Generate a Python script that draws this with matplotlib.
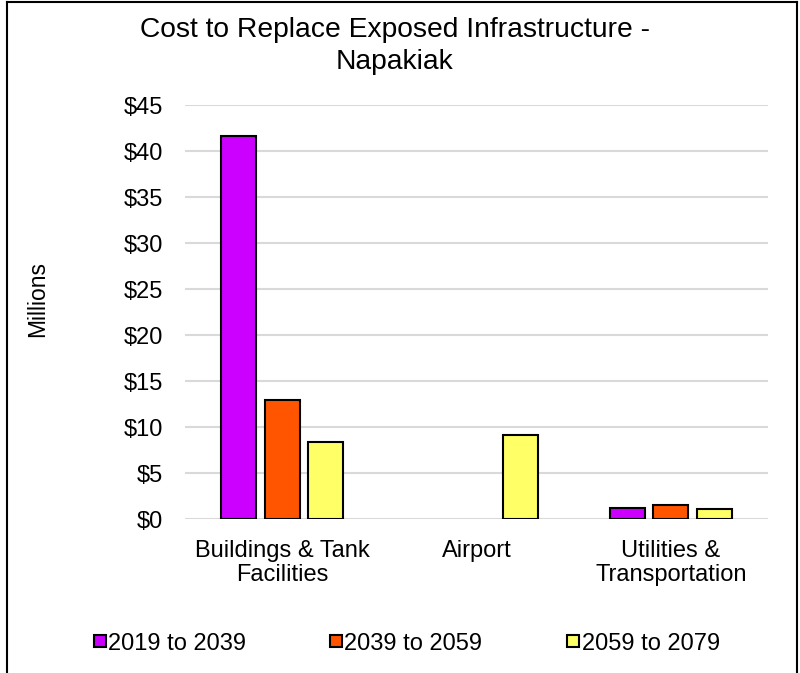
import matplotlib
matplotlib.use("Agg")
import matplotlib.pyplot as plt
from matplotlib.lines import Line2D
from matplotlib.patches import Rectangle
import numpy as np

plt.rcParams['font.family'] = ['Liberation Sans', 'DejaVu Sans']

categories = ["Buildings & Tank\nFacilities", "Airport", "Utilities &\nTransportation"]
series_names = ["2019 to 2039", "2039 to 2059", "2059 to 2079"]
s2019 = [41.6, 0.0, 1.2]
s2039 = [13.0, 0.0, 1.55]
s2059 = [8.45, 9.15, 1.12]
colors = ["#CC00FF", "#FF5500", "#FFFF66"]
yticks = [0, 5, 10, 15, 20, 25, 30, 35, 40, 45]
ytick_labels = ["$0", "$5", "$10", "$15", "$20", "$25", "$30", "$35", "$40", "$45"]

W, H = 800, 673
fig = plt.figure(figsize=(W / 100, H / 100), dpi=100)
ax = fig.add_axes([185 / W, 1 - 519.3 / H, (768 - 185) / W, (519.3 - 105) / H])

x = np.arange(len(categories))
w = 0.18
off = 0.225
for i, (vals, name, c) in enumerate(zip([s2019, s2039, s2059], series_names, colors)):
    v = np.array(vals)
    mask = v > 0
    ax.bar(x[mask] + (i - 1) * off, v[mask], width=w, color=c, edgecolor="black",
           linewidth=1.5, label=name, zorder=3)

FS = 17
ax.set_xlim(-0.5, 2.5)
ax.set_ylim(0, 45)
ax.set_yticks(yticks)
ax.set_yticklabels(ytick_labels, fontsize=FS)
ax.set_xticks(x)
ax.set_xticklabels(categories, fontsize=FS, linespacing=1.1)
ax.tick_params(axis='y', length=0, pad=16)
ax.tick_params(axis='x', length=0, pad=15)
ax.yaxis.grid(True, color="#D9D9D9", linewidth=1.5, zorder=0)
for s in ax.spines.values():
    s.set_visible(False)

fig.text(37.5 / W, 1 - 299 / H, "Millions", rotation=90, ha="center", va="center", fontsize=16.5)

fig.text(395 / W, 1 - 17 / H, "Cost to Replace Exposed Infrastructure -\nNapakiak", ha="center", va="top",
         fontsize=20.3, linespacing=1.3)

# legend drawn manually
leg_sq_x = [94, 330, 567]
leg_y = 641
sq = 11.5
for sx, c, name in zip(leg_sq_x, colors, series_names):
    fig.add_artist(Rectangle((sx / W, (H - leg_y - sq / 2) / H), sq / W, sq / H,
                             transform=fig.transFigure, facecolor=c, edgecolor="black", linewidth=1.5))
    fig.text((sx + sq + 3) / W, 1 - leg_y / H, name, ha="left", va="center_baseline", fontsize=FS)

# border lines (top, left, right)
fig.add_artist(Line2D([7 / W, 7 / W], [0, 1 - 2 / H], transform=fig.transFigure, color="black", linewidth=1.5))
fig.add_artist(Line2D([7 / W, 797 / W], [1 - 2 / H, 1 - 2 / H], transform=fig.transFigure, color="black", linewidth=1.5))
fig.add_artist(Line2D([797 / W, 797 / W], [0, 1 - 2 / H], transform=fig.transFigure, color="black", linewidth=1.5))

fig.savefig("out.png", dpi=100)
